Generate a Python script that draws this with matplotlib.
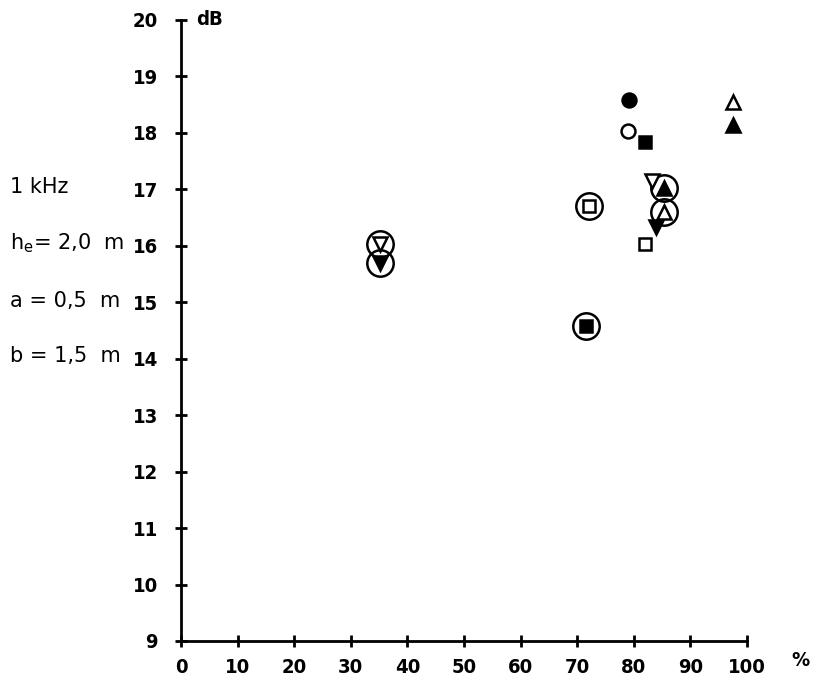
import matplotlib
matplotlib.use("Agg")
import matplotlib.pyplot as plt
from matplotlib import font_manager

# Measured points: percentage (x) vs. level (dB)
x_pct = [35.2, 35.2, 72.0, 71.5, 79.2, 78.9, 82.0, 83.3, 85.3, 85.3, 83.9, 82.0, 97.5, 97.5]
y_db = [16.04, 15.70, 16.70, 14.58, 18.58, 18.03, 17.83, 17.14, 17.02, 16.59, 16.34, 16.04, 18.55, 18.14]
shape = ["v", "v", "s", "s", "o", "o", "s", "v", "^", "^", "v", "s", "^", "^"]
filled = [False, True, False, True, True, False, True, False, True, False, True, False, False, True]
ringed = [True, True, True, True, False, False, False, False, True, True, False, False, False, False]

x_ticks = [0, 10, 20, 30, 40, 50, 60, 70, 80, 90, 100]
y_ticks = [9, 10, 11, 12, 13, 14, 15, 16, 17, 18, 19, 20]

side_notes = ["1 kHz", r"h$_{\mathrm{e}}$= 2,0  m", "a = 0,5  m", "b = 1,5  m"]
side_y = [17.04, 16.05, 15.02, 14.05]

names = {f.name for f in font_manager.fontManager.ttflist}
narrow = "Liberation Sans Narrow" if "Liberation Sans Narrow" in names else "DejaVu Sans"
tick_font = dict(family=narrow, weight="bold", size=14.5, stretch="condensed")

fig = plt.figure(figsize=(8.14, 6.77), dpi=100)
ax = fig.add_axes([0.2224, 0.0532, 0.6953, 0.9173])
ax.set_xlim(0, 100)
ax.set_ylim(9, 20)

for s in ("top", "right"):
    ax.spines[s].set_visible(False)
for s in ("left", "bottom"):
    ax.spines[s].set_linewidth(2)
ax.spines["left"].set_bounds(9, 20)
ax.spines["bottom"].set_bounds(0, 100)

ax.set_xticks(x_ticks)
ax.set_yticks(y_ticks)
ax.set_xticklabels([str(v) for v in x_ticks], fontdict=tick_font)
ax.set_yticklabels([str(v) for v in y_ticks], fontdict=tick_font)
ax.tick_params(direction="inout", length=9, width=2)
ax.tick_params(axis="y", pad=12)
ax.tick_params(axis="x", pad=8)

sizes = {"o": 10, "s": 9, "^": 10.5, "v": 10.5}
for xv, yv, m, f, r in zip(x_pct, y_db, shape, filled, ringed):
    if r:
        ax.plot(xv, yv, marker="o", ms=19, mfc="none", mec="black", mew=1.8,
                linestyle="none", clip_on=False, zorder=2)
    ax.plot(xv, yv, marker=m, ms=sizes[m], mfc="black" if f else "white",
            mec="black", mew=1.8, linestyle="none", clip_on=False, zorder=3)

ax.text(2.6, 20.0, "dB", fontdict=tick_font, ha="left", va="center",
        clip_on=False)
ax.text(109.5, 8.65, "%", fontdict=tick_font, ha="center", va="center",
        clip_on=False)

for txt, yv in zip(side_notes, side_y):
    fig.text(0.012, ax.transData.transform((0, yv))[1] / fig.bbox.height, txt,
             fontsize=15, family="DejaVu Sans", ha="left", va="center")

fig.savefig("out.png", dpi=100, facecolor="white")
